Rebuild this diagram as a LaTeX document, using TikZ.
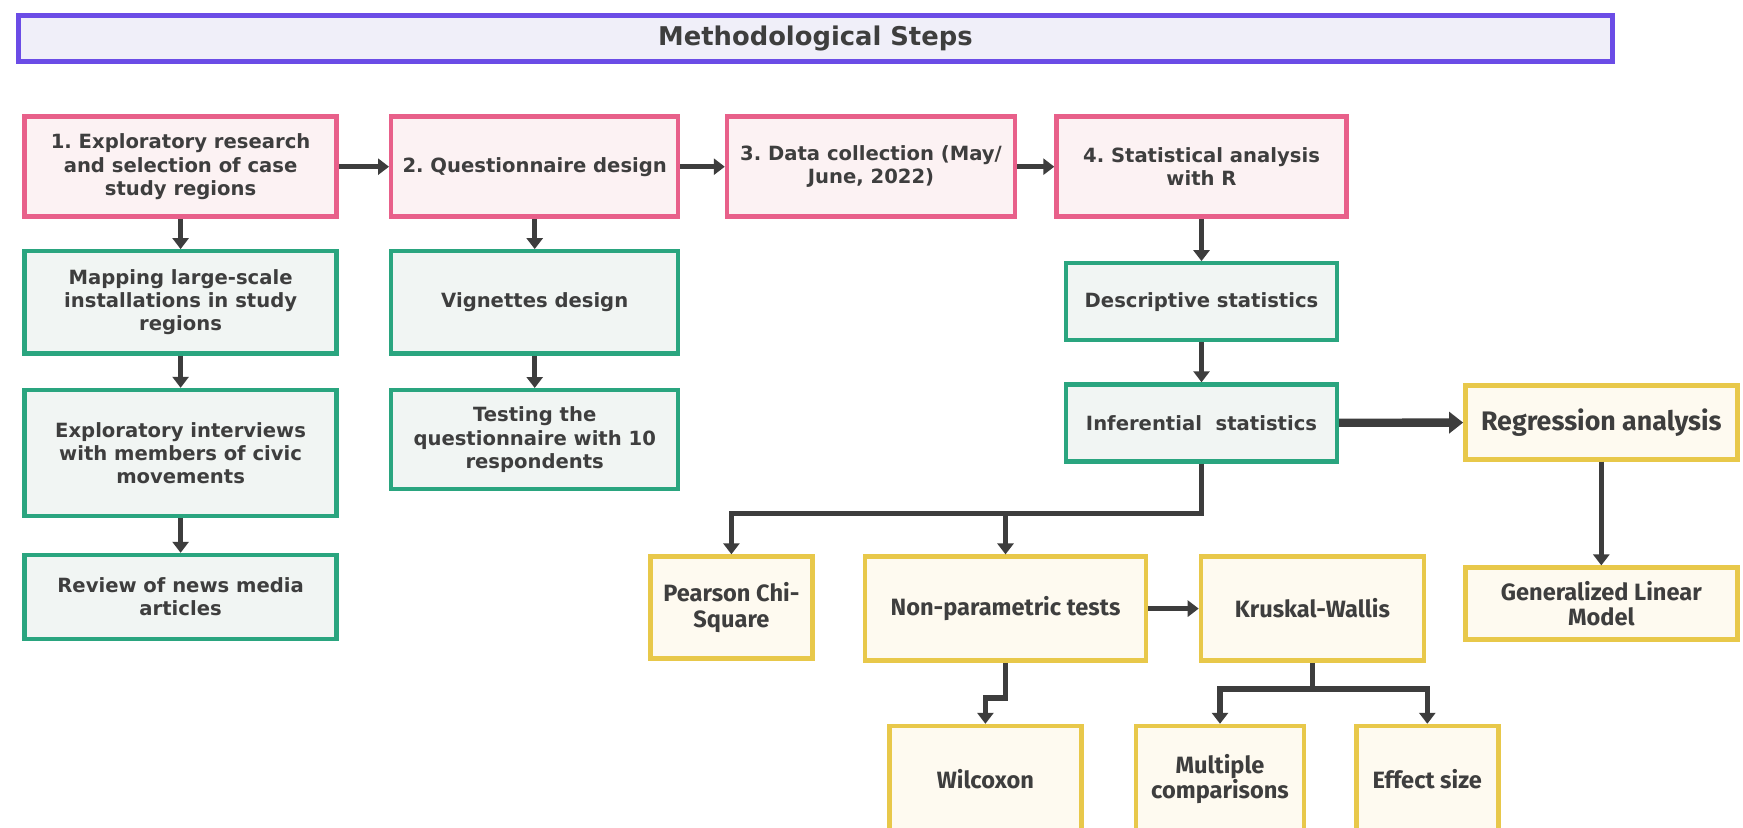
\documentclass[tikz,border=0pt]{standalone}
\usepackage{fontspec}
\setmainfont{DejaVu Sans}
\newfontfamily\testfont{Fira Sans}
\usetikzlibrary{arrows.meta}
\frenchspacing

\definecolor{txtgray}{HTML}{3E3E3E}
\definecolor{arrowgray}{HTML}{3D3D3D}
\definecolor{titleline}{HTML}{6B4CE6}
\definecolor{titlefill}{HTML}{F0EFF9}
\definecolor{stepline}{HTML}{E8608A}
\definecolor{stepfill}{HTML}{FCF2F3}
\definecolor{subline}{HTML}{2AA57F}
\definecolor{subfill}{HTML}{F1F5F3}
\definecolor{testline}{HTML}{E8C84A}
\definecolor{testfill}{HTML}{FEFAF0}

\tikzset{
  box/.style={draw, line width=2.2pt, align=center, text=txtgray, inner sep=2pt,
    font=\bfseries\fontsize{9.8}{11.6}\selectfont},
  stepbox/.style={box, draw=stepline, fill=stepfill},
  subbox/.style={box, draw=subline, fill=subfill},
  testbox/.style={box, draw=testline, fill=testfill,
    font=\testfont\bfseries\fontsize{11.8}{12.8}\selectfont},
  flow/.style={draw=arrowgray, line width=2.6pt, -{Triangle[length=5.5pt,width=8pt]}},
}

\begin{document}
\begin{tikzpicture}[x=0.5pt,y=-0.5pt]
\useasboundingbox[fill=white] (0,0) rectangle (1743,828);

% title bar
\node[draw=titleline, fill=titlefill, line width=2.5pt, minimum width=797pt, minimum height=23pt,
  text=txtgray, font=\bfseries\fontsize{12.9}{14}\selectfont] (title) at (815.4,38.3) {Methodological Steps};

% main steps
\node[stepbox, minimum width=156pt, minimum height=50pt] (s1) at (180.6,166.7)
  {1. Exploratory research\\and selection of case\\study regions};
\node[stepbox, minimum width=143.5pt, minimum height=50pt] (s2) at (534.7,166.7)
  {2. Questionnaire design};
\node[stepbox, minimum width=144pt, minimum height=50pt] (s3) at (871,166.7)
  {3. Data collection (May/\\June, 2022)};
\node[stepbox, minimum width=145pt, minimum height=50pt] (s4) at (1201.5,166.7)
  {4. Statistical analysis\\with R};

% sub steps
\node[subbox, minimum width=156pt, minimum height=51pt] (map) at (180.6,302.3)
  {Mapping large-scale\\installations in study\\regions};
\node[subbox, minimum width=156pt, minimum height=63pt] (interv) at (180.6,453)
  {Exploratory interviews\\with members of civic\\movements};
\node[subbox, minimum width=156pt, minimum height=42pt] (review) at (180.6,597)
  {Review of news media\\articles};
\node[subbox, minimum width=143.5pt, minimum height=51pt] (vign) at (534.7,302.3)
  {Vignettes design};
\node[subbox, minimum width=143.5pt, minimum height=49.5pt] (testq) at (534.7,439.7)
  {Testing the\\questionnaire with 10\\respondents};
\node[subbox, minimum width=135.5pt, minimum height=38.5pt] (descr) at (1201.5,301.8)
  {Descriptive statistics};
\node[subbox, minimum width=135.5pt, minimum height=38.5pt] (infer) at (1201.5,423)
  {Inferential\ \ statistics};

% tests
\node[testbox, minimum width=136pt, minimum height=37pt, font=\testfont\bfseries\fontsize{13.4}{15}\selectfont]
  (regr) at (1601.3,422.4) {Regression analysis};
\node[testbox, minimum width=136pt, minimum height=36pt] (glm) at (1601.3,603.6)
  {Generalized Linear\\Model};
\node[testbox, minimum width=81pt, minimum height=51pt] (pears) at (731.4,607.5)
  {Pearson Chi-\\Square};
\node[testbox, minimum width=140.5pt, minimum height=52pt] (nonpar) at (1005.5,608.6)
  {Non-parametric tests};
\node[testbox, minimum width=111.5pt, minimum height=52pt] (krus) at (1312.4,608.6)
  {Kruskal-Wallis};
\node[testbox, minimum width=96pt, minimum height=53pt] (wilc) at (985.4,779)
  {Wilcoxon};
\node[testbox, minimum width=84pt, minimum height=53pt] (multi) at (1220,779)
  {Multiple\\comparisons};
\node[testbox, minimum width=71pt, minimum height=53pt] (effect) at (1427.3,779)
  {Effect size};

% junctions
\coordinate (j1) at (0,513.6);
\coordinate (j2) at (0,698);
\coordinate (j3) at (0,689);

% connectors
\draw[flow] (s1) -- (s2);
\draw[flow] (s2) -- (s3);
\draw[flow] (s3) -- (s4);
\draw[flow] (s1) -- (map);
\draw[flow] (map) -- (interv);
\draw[flow] (interv) -- (review);
\draw[flow] (s2) -- (vign);
\draw[flow] (vign) -- (testq);
\draw[flow] (s4) -- (descr);
\draw[flow] (descr) -- (infer);
\draw[flow, line width=4.2pt, -{Triangle[length=7pt,width=10.5pt]}] (infer) -- (regr);
\draw[flow] (regr) -- (glm);
\draw[flow] (infer.south) -- (infer.south |- j1) -| (pears.north);
\draw[flow] (nonpar.north |- j1) -- (nonpar.north);
\draw[flow] (nonpar) -- (krus);
\draw[flow] (nonpar.south) -- (nonpar.south |- j2) -| (wilc.north);
\draw[flow] (krus.south) -- (krus.south |- j3) -| (multi.north);
\draw[flow] (krus.south |- j3) -| (effect.north);
\end{tikzpicture}
\end{document}
